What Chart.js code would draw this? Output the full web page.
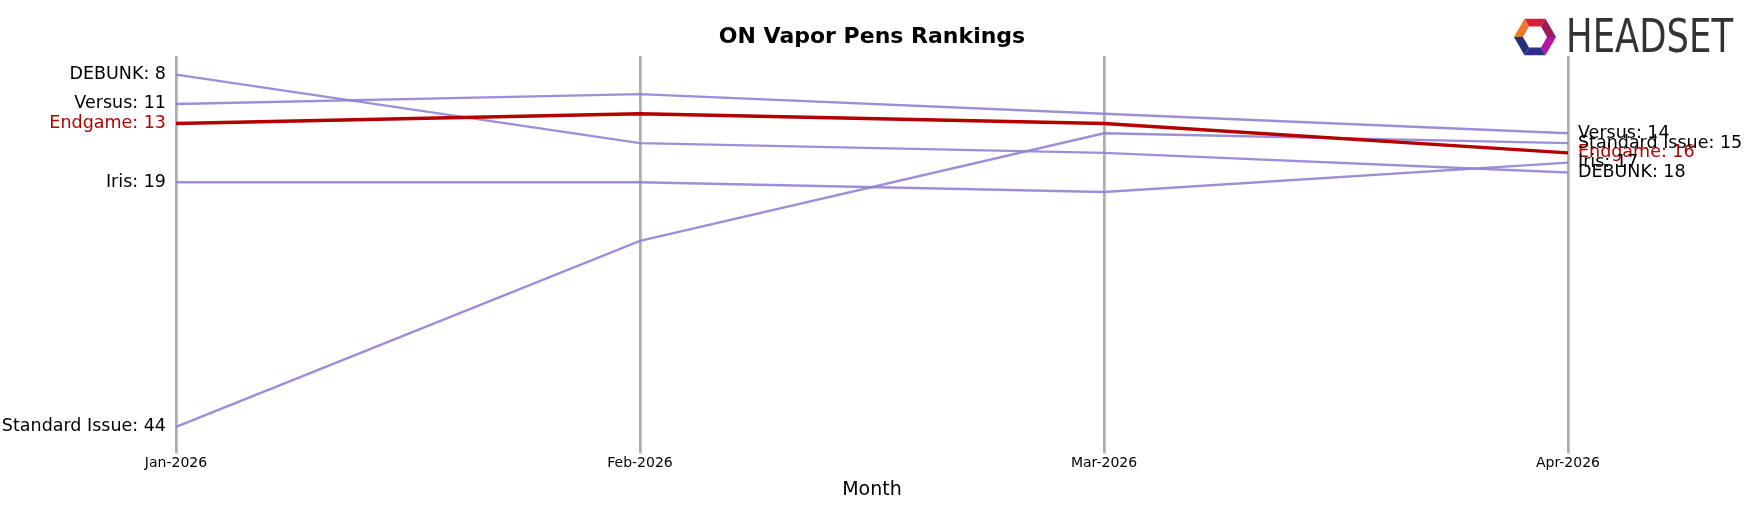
<!DOCTYPE html>
<html>
<head>
<meta charset="utf-8">
<script src="https://cdn.jsdelivr.net/npm/chart.js@4/dist/chart.umd.min.js"></script>
<style>
  html, body { margin: 0; padding: 0; background: #fff; }
  #wrap { width: 1750px; height: 507px; }
</style>
</head>
<body>
<div id="wrap"><canvas id="c"></canvas></div>
<script>
// datos
const months = ['Jan-2026', 'Feb-2026', 'Mar-2026', 'Apr-2026'];
const brands = ['DEBUNK', 'Versus', 'Endgame', 'Iris', 'Standard Issue'];
const debunk = [8, 15, 16, 18];
const versus = [11, 10, 12, 14];
const endgame = [13, 12, 13, 16];
const iris = [19, 19, 20, 17];
const standardIssue = [44, 25, 14, 15];
const highlight = 'Endgame';

const series = [debunk, versus, endgame, iris, standardIssue];

const datasets = brands.map((b, i) => ({
    label: b,
    data: series[i],
    borderColor: b === highlight ? '#b30000' : 'rgba(147, 130, 214, 0.9)',
    borderWidth: b === highlight ? 3.5 : 2.4,
    pointRadius: 0,
    tension: 0,
    order: b === highlight ? 0 : 1
}));

// etiquetas a ambos lados y titulo
const labelsPlugin = {
    id: 'labels',
    afterDatasetsDraw(chart) {
        const ctx = chart.ctx;
        const x = chart.scales.x, y = chart.scales.y;
        ctx.save();
        ctx.font = '17.5px "DejaVu Sans"';
        ctx.textBaseline = 'middle';
        chart.data.datasets.forEach(ds => {
            ctx.fillStyle = ds.label === highlight ? '#b30000' : '#000';
            const first = ds.data[0], last = ds.data[ds.data.length - 1];
            ctx.textAlign = 'right';
            ctx.fillText(ds.label + ': ' + first, x.getPixelForValue(0) - 10, y.getPixelForValue(first));
            ctx.textAlign = 'left';
            ctx.fillText(ds.label + ': ' + last, x.getPixelForValue(months.length - 1) + 10, y.getPixelForValue(last));
        });
        ctx.fillStyle = '#000';
        ctx.textAlign = 'center';
        ctx.font = 'bold 22px "DejaVu Sans"';
        ctx.fillText('ON Vapor Pens Rankings', 872, 37);
        // logo
        ctx.fillStyle = '#333';
        ctx.textAlign = 'left';
        ctx.font = '46px "DejaVu Sans Condensed"';
        ctx.fillText('HEADSET', 1566, 40, 167);
        const cx = 1535, cy = 37;
        const cols = ['#d4213d', '#9b1b5a', '#b5179e', '#2d2f8f', '#24307a', '#f0772a'];
        for (let k = 0; k < 6; k++) {
            const a0 = -Math.PI / 2 + k * Math.PI / 3 - Math.PI / 6;
            ctx.beginPath();
            ctx.moveTo(cx + 12 * Math.cos(a0), cy + 12 * Math.sin(a0));
            ctx.lineTo(cx + 21 * Math.cos(a0), cy + 21 * Math.sin(a0));
            ctx.lineTo(cx + 21 * Math.cos(a0 + Math.PI / 3), cy + 21 * Math.sin(a0 + Math.PI / 3));
            ctx.lineTo(cx + 12 * Math.cos(a0 + Math.PI / 3), cy + 12 * Math.sin(a0 + Math.PI / 3));
            ctx.closePath();
            ctx.fillStyle = cols[k];
            ctx.fill();
        }
        ctx.restore();
    }
};

new Chart(document.getElementById('c'), {
    type: 'line',
    data: { labels: months, datasets: datasets },
    options: {
        responsive: true,
        maintainAspectRatio: false,
        animation: false,
        layout: { padding: { left: 176, right: 182, top: 56, bottom: 2 } },
        plugins: { legend: { display: false }, title: { display: false }, tooltip: { enabled: false } },
        scales: {
            x: {
                offset: false,
                grid: { color: '#b0b0b0', lineWidth: 2.8, drawTicks: true, tickLength: 6 },
                border: { display: false },
                ticks: { color: '#000', font: { size: 14, family: 'DejaVu Sans' }, padding: 2, maxRotation: 0 },
                title: { display: true, text: 'Month', color: '#000', font: { size: 19, family: 'DejaVu Sans' }, padding: { top: 4 } }
            },
            y: {
                display: false,
                reverse: true,
                min: 6.1,
                max: 46.1
            }
        }
    },
    plugins: [labelsPlugin]
});
</script>
</body>
</html>
